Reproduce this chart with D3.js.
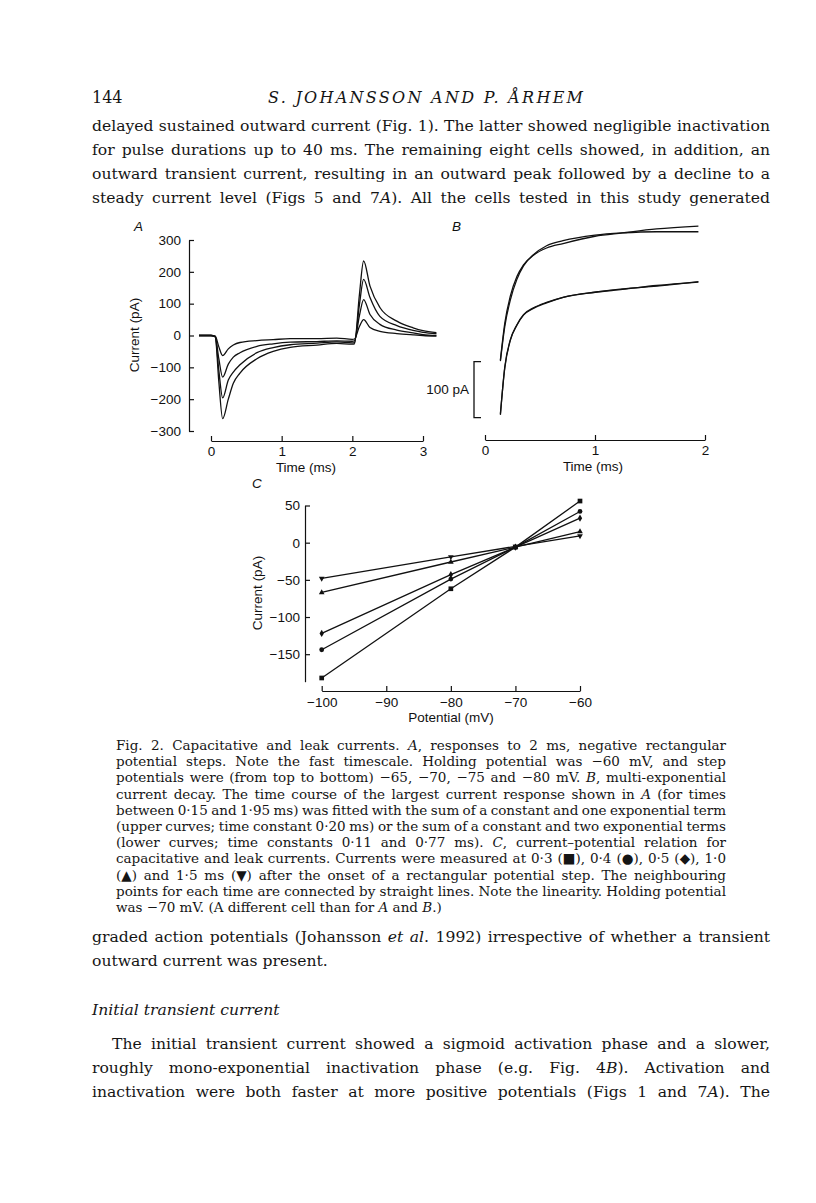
<!DOCTYPE html>
<html>
<head>
<meta charset="utf-8">
<script src="https://cdn.jsdelivr.net/npm/d3@7"></script>
<style>
  body { margin: 0; background: #fff; }
  svg { display: block; }
  .fig text { font-family: "Liberation Sans", Arial, sans-serif; font-size: 13.5px; fill: #111; }
  .page text { font-family: "DejaVu Serif", "Liberation Serif", serif; fill: #151515; white-space: pre; }
  .axis path, .axis line { stroke: #111; stroke-width: 1.2; }
  .trace { fill: none; stroke: #111; stroke-width: 1.3; }
</style>
</head>
<body>
<div id="page"></div>
<script>
// ---- panel A: responses to 2 ms steps (time ms, current pA) ----
var tA = [-0.17, 0, 0.06, 0.11, 0.165, 0.245, 0.316, 0.41, 0.65, 0.88, 1.12, 1.5, 1.78, 2.0, 2.03, 2.1, 2.16, 2.25, 2.39, 2.63, 2.86, 3.0, 3.19];
var iStep65 = [0, 0, -2, -35, -63, -42, -30, -22, -16, -13, -10, -10, -8, -12, -11, 28, 50, 25, 13, 6, 2, 0, -2];
var iStep70 = [0, 0, -3, -72, -131, -90, -68, -54, -34, -26, -21, -19, -17, -18, -17, 62, 113, 66, 35, 17, 8, 3, 0];
var iStep75 = [0, 0, -4, -108, -196, -140, -115, -92, -54, -38, -29, -24, -20, -23, -22, 96, 176, 119, 60, 31, 16, 10, 6];
var iStep80 = [0, 0, -5, -143, -261, -200, -150, -118, -73, -50, -37, -30, -25, -27, -26, 128, 234, 155, 88, 45, 24, 15, 9];
var aYTicks = [-300, -200, -100, 0, 100, 200, 300];
var aXTicks = [0, 1, 2, 3];

// ---- panel B: decay of the largest response and its fits ----
var tB = [0.14, 0.18, 0.23, 0.29, 0.35, 0.44, 0.56, 0.71, 1.0, 1.25, 1.56, 1.94];
var upperData = [-250, -184, -136, -101, -80, -63, -50, -42, -29, -23, -16, -11];
var upperFit = [-252, -190, -143, -106, -82, -62, -46, -37, -27, -23, -21, -21];
// lower pair is drawn about 100 pA below the upper pair
var lowerData = [-348, -262, -214, -188, -170, -158, -148, -138, -129, -123, -118, -110];
var lowerFit = [-346, -264, -215, -187, -169, -157, -147, -138, -129, -124, -117, -111];
var bXTicks = [0, 1, 2];
var scaleBarFrom = -353, scaleBarSize = 100;

// ---- panel C: current-potential relation ----
var potentials = [-100, -80, -70, -60];
var iv03 = [-182, -62, -6, 56];
var iv04 = [-144, -49, -6, 42];
var iv05 = [-122, -43, -6, 33];
var iv10 = [-67, -26, -6, 15];
var iv15 = [-48, -19, -5, 9];
var cYTicks = [-150, -100, -50, 0, 50];
var cXTicks = [-100, -90, -80, -70, -60];

// ---- page text ----
var bodyTop = [
  "delayed sustained outward current (Fig. 1). The latter showed negligible inactivation",
  "for pulse durations up to 40 ms. The remaining eight cells showed, in addition, an",
  "outward transient current, resulting in an outward peak followed by a decline to a",
  "steady current level (Figs 5 and 7*A*). All the cells tested in this study generated"
];
var caption = [
  "Fig. 2. Capacitative and leak currents. *A*, responses to 2 ms, negative rectangular",
  "potential steps. Note the fast timescale. Holding potential was \u221260 mV, and step",
  "potentials were (from top to bottom) \u221265, \u221270, \u221275 and \u221280 mV. *B*, multi-exponential",
  "current decay. The time course of the largest current response shown in *A* (for times",
  "between 0\u00b715 and 1\u00b795 ms) was fitted with the sum of a constant and one exponential term",
  "(upper curves; time constant 0\u00b720 ms) or the sum of a constant and two exponential terms",
  "(lower curves; time constants 0\u00b711 and 0\u00b777 ms). *C*, current\u2013potential relation for",
  "capacitative and leak currents. Currents were measured at 0\u00b73 (\u25a0), 0\u00b74 (\u25cf), 0\u00b75 (\u25c6), 1\u00b70",
  "(\u25b2) and 1\u00b75 ms (\u25bc) after the onset of a rectangular potential step. The neighbouring",
  "points for each time are connected by straight lines. Note the linearity. Holding potential",
  "was \u221270 mV. (A different cell than for *A* and *B*.)"
];
var bodyMid = [
  "graded action potentials (Johansson *et al*. 1992) irrespective of whether a transient",
  "outward current was present."
];
var bodyEnd = [
  "The initial transient current showed a sigmoid activation phase and a slower,",
  "roughly mono-exponential inactivation phase (e.g. Fig. 4*B*). Activation and",
  "inactivation were both faster at more positive potentials (Figs 1 and 7*A*). The"
];

var svg = d3.select("#page").append("svg")
  .attr("width", 816)
  .attr("height", 1203);

var page = svg.append("g").attr("class", "page");
var fig = svg.append("g").attr("class", "fig");

// one text line, *...* parts in italic; justified to width by widening the word gaps
function textLine(g, str, x, y, size, width, italic) {
  var t = g.append("text").attr("x", x).attr("y", y).style("font-size", size + "px");
  str.split("*").forEach(function(part, i) {
    if (!part) return;
    t.append("tspan").text(part).style("font-style", (i % 2 || italic) ? "italic" : null);
  });
  if (width) {
    var natural = t.node().getComputedTextLength();
    var gaps = (str.match(/ /g) || []).length;
    if (gaps) t.style("word-spacing", ((width - natural) / gaps) + "px");
  }
  return t;
}

// header
textLine(page, "144", 92, 103, 16);
page.append("text")
  .attr("x", 268).attr("y", 103)
  .style("font-size", "16px").style("font-style", "italic")
  .attr("textLength", 315).attr("lengthAdjust", "spacing")
  .text("S. JOHANSSON AND P. \u00c5RHEM");

bodyTop.forEach(function(s, i) {
  textLine(page, s, 92, 131 + i * 24, 15.6, 678);
});
caption.forEach(function(s, i) {
  textLine(page, s, 116, 750 + i * 16.2, 13.5, i < caption.length - 1 ? 610 : null);
});
bodyMid.forEach(function(s, i) {
  textLine(page, s, 92, 942 + i * 24, 15.6, i === 0 ? 678 : null);
});
textLine(page, "Initial transient current", 92, 1015, 15.6, null, true);
bodyEnd.forEach(function(s, i) {
  textLine(page, s, i === 0 ? 112 : 92, 1049 + i * 24, 15.6, i === 0 ? 658 : 678);
});

function zip(xs, ys) {
  return xs.map(function(x, i) { return [x, ys[i]]; });
}

// ================= panel A =================
var xA = d3.scaleLinear().domain([0, 3]).range([211, 423]);
var yA = d3.scaleLinear().domain([-300, 300]).range([431, 240]);

fig.append("g")
  .attr("class", "axis")
  .attr("transform", "translate(189,0)")
  .call(d3.axisLeft(yA).tickValues(aYTicks).tickSizeInner(-5).tickSizeOuter(0).tickPadding(8));

fig.append("g")
  .attr("class", "axis")
  .attr("transform", "translate(0,441)")
  .call(d3.axisBottom(xA).tickValues(aXTicks).tickSizeInner(-5).tickSizeOuter(0).tickPadding(5).tickFormat(d3.format("d")));

var lineA = d3.line()
  .x(function(d) { return xA(d[0]); })
  .y(function(d) { return yA(d[1]); })
  .curve(d3.curveMonotoneX);

[iStep65, iStep70, iStep75, iStep80].forEach(function(ser) {
  fig.append("path").attr("class", "trace").attr("d", lineA(zip(tA, ser)));
});

fig.append("text").attr("x", 134).attr("y", 231).style("font-style", "italic").text("A");
fig.append("text").attr("x", 306).attr("y", 472).attr("text-anchor", "middle").text("Time (ms)");
fig.append("text")
  .attr("transform", "translate(139,335) rotate(-90)")
  .attr("text-anchor", "middle")
  .text("Current (pA)");

// ================= panel B =================
var xB = d3.scaleLinear().domain([0, 2]).range([485, 705]);
var yB = d3.scaleLinear().domain([-350, 0]).range([416, 220]);

fig.append("g")
  .attr("class", "axis")
  .attr("transform", "translate(0,440)")
  .call(d3.axisBottom(xB).tickValues(bXTicks).tickSizeInner(-5).tickSizeOuter(0).tickPadding(5).tickFormat(d3.format("d")));

var lineB = d3.line()
  .x(function(d) { return xB(d[0]); })
  .y(function(d) { return yB(d[1]); })
  .curve(d3.curveMonotoneX);

[upperData, upperFit, lowerData, lowerFit].forEach(function(ser) {
  fig.append("path").attr("class", "trace").attr("d", lineB(zip(tB, ser)));
});

// 100 pA scale bar
var barX = 474;
fig.append("path")
  .attr("class", "trace")
  .attr("d", "M" + (barX + 7) + "," + yB(scaleBarFrom + scaleBarSize) +
    "H" + barX + "V" + yB(scaleBarFrom) + "H" + (barX + 7));
fig.append("text").attr("x", 469).attr("y", 394).attr("text-anchor", "end").text("100 pA");

fig.append("text").attr("x", 452).attr("y", 231).style("font-style", "italic").text("B");
fig.append("text").attr("x", 593).attr("y", 471).attr("text-anchor", "middle").text("Time (ms)");

// ================= panel C =================
var xC = d3.scaleLinear().domain([-100, -60]).range([321.7, 580]);
var yC = d3.scaleLinear().domain([-187, 50]).range([681.7, 505.5]);

fig.append("g")
  .attr("class", "axis")
  .attr("transform", "translate(305,0)")
  .call(d3.axisLeft(yC).tickValues(cYTicks).tickSizeInner(-5).tickSizeOuter(0).tickPadding(5));

fig.append("g")
  .attr("class", "axis")
  .attr("transform", "translate(0,691)")
  .call(d3.axisBottom(xC).tickValues(cXTicks).tickSizeInner(-5).tickSizeOuter(0).tickPadding(6));

var lineC = d3.line()
  .x(function(d) { return xC(d[0]); })
  .y(function(d) { return yC(d[1]); });

var ivSeries = [
  { vals: iv03, sym: d3.symbolSquare, size: 22, rot: 0 },
  { vals: iv04, sym: d3.symbolCircle, size: 18, rot: 0 },
  { vals: iv05, sym: d3.symbolDiamond, size: 16, rot: 0 },
  { vals: iv10, sym: d3.symbolTriangle, size: 14, rot: 0 },
  { vals: iv15, sym: d3.symbolTriangle, size: 14, rot: 180 }
];

ivSeries.forEach(function(s) {
  var pts = zip(potentials, s.vals);
  fig.append("path").attr("class", "trace").attr("d", lineC(pts));
  fig.selectAll(null)
    .data(pts)
    .enter()
    .append("path")
    .attr("d", d3.symbol().type(s.sym).size(s.size))
    .attr("transform", function(d) {
      return "translate(" + xC(d[0]) + "," + yC(d[1]) + ") rotate(" + s.rot + ")";
    })
    .attr("fill", "#111");
});

fig.append("text").attr("x", 252).attr("y", 488).style("font-style", "italic").text("C");
fig.append("text").attr("x", 451).attr("y", 722).attr("text-anchor", "middle").text("Potential (mV)");
fig.append("text")
  .attr("transform", "translate(262,593) rotate(-90)")
  .attr("text-anchor", "middle")
  .text("Current (pA)");
</script>
</body>
</html>
